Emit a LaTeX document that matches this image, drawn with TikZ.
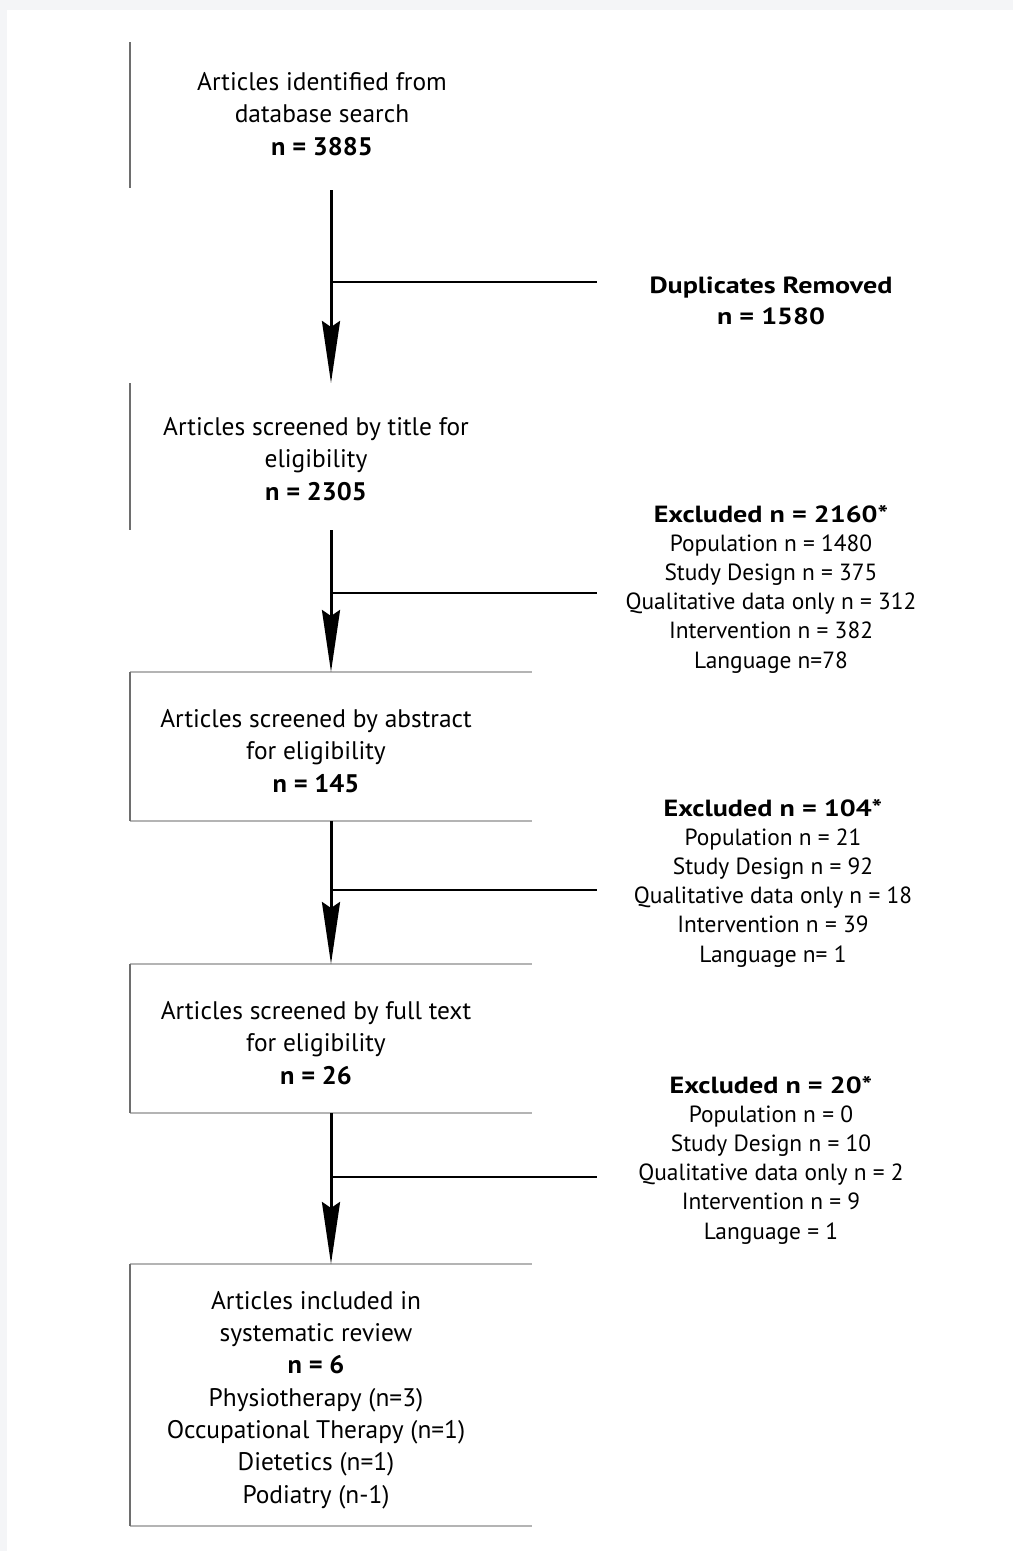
\documentclass[tikz,border=0pt]{standalone}
\usepackage{fontspec}
\setmainfont{PT Sans}
\usetikzlibrary{arrows.meta}
\definecolor{pagegray}{HTML}{F4F5F7}
\definecolor{edgedark}{HTML}{6E6E6E}
\definecolor{edgelight}{HTML}{B4B4B4}
\newcommand\wb[2]{{\bfseries\addfontfeatures{FakeStretch=#1}#2}}
\tikzset{
  boxshape/.style={draw=none, minimum width=402pt, inner sep=0pt, outer sep=0pt},
  leftedge/.style={draw=edgedark, line width=1.4pt},
  hedge/.style={draw=edgelight, line width=1.4pt},
  flow/.style={line width=3pt, -{Stealth[length=62pt,width=18pt,inset=6pt]}},
  branch/.style={line width=2pt},
  boxtext/.style={align=center, inner sep=0pt, font=\fontsize{25.4}{32.3}\selectfont},
  sidetext/.style={align=center, inner sep=0pt, font=\fontsize{23.4}{29.2}\selectfont}
}
\begin{document}
\begin{tikzpicture}[x=1pt,y=-1pt]
\useasboundingbox (0,0) rectangle (1013,1551);
\fill[pagegray] (0,0) rectangle (1013,1551);
\fill[white] (7,10) rectangle (1013,1551);

% box frames (invisible nodes)
\node[boxshape, minimum height=146pt] (b1) at (331,115) {};
\node[boxshape, minimum height=147pt] (b2) at (331,456.5) {};
\node[boxshape, minimum height=149pt] (b3) at (331,746.5) {};
\node[boxshape, minimum height=149pt] (b4) at (331,1038.5) {};
\node[boxshape, minimum height=262pt] (b5) at (331,1395) {};

\draw[leftedge] (b1.north west) -- (b1.south west);
\draw[leftedge] (b2.north west) -- (b2.south west);
\foreach \b in {b3,b4,b5}{
  \draw[hedge] (\b.north west) -- (\b.north east);
  \draw[hedge] (\b.south west) -- (\b.south east);
  \draw[leftedge] (\b.north west) -- (\b.south west);
}

% box texts
\node[boxtext] (t1) at (322,114) {Articles identified from\\database search\\\wb{1.04}{n = 3885}};
\node[boxtext] (t2) at (316,459) {Articles screened by title for\\eligibility\\\wb{1.04}{n = 2305}};
\node[boxtext] (t3) at (316,751) {Articles screened by abstract\\for eligibility\\\wb{1.04}{n = 145}};
\node[boxtext] (t4) at (316,1043) {Articles screened by full text\\for eligibility\\\wb{1.04}{n = 26}};
\node[boxtext] (t5) at (316,1400) {Articles included in\\systematic review\\\wb{1.04}{n = 6}\\Physiotherapy (n=3)\\Occupational Therapy (n=1)\\Dietetics (n=1)\\Podiatry (n-1)};

% side texts
\node[sidetext, font=\fontsize{23.4}{31}\selectfont] (s1) at (771,301) {\wb{1.2}{Duplicates Removed}\\\wb{1.2}{n = 1580}};
\node[sidetext] (s2) at (771,589) {\wb{1.2}{Excluded n = 2160*}\\Population n = 1480\\Study Design n = 375\\Qualitative data only n = 312\\Intervention n = 382\\Language n=78};
\node[sidetext] (s3) at (773,883) {\wb{1.2}{Excluded n = 104*}\\Population n = 21\\Study Design n = 92\\Qualitative data only n = 18\\Intervention n = 39\\Language n= 1};
\node[sidetext] (s4) at (771,1160) {\wb{1.2}{Excluded n = 20*}\\Population n = 0\\Study Design n = 10\\Qualitative data only n = 2\\Intervention n = 9\\Language = 1};

% flow arrows
\draw[flow] ([yshift=-2pt]b1.south) -- (b2.north);
\draw[flow] (b2.south) -- (b3.north);
\draw[flow] (b3.south) -- (b4.north);
\draw[flow] (b4.south) -- (b5.north);

% branches
\coordinate (j1) at (331,282);  \coordinate (e1) at (597,282);
\coordinate (j2) at (331,593);  \coordinate (e2) at (597,593);
\coordinate (j3) at (331,890);  \coordinate (e3) at (597,890);
\coordinate (j4) at (331,1177); \coordinate (e4) at (597,1177);
\draw[branch] (j1) -- (e1);
\draw[branch] (j2) -- (e2);
\draw[branch] (j3) -- (e3);
\draw[branch] (j4) -- (e4);
\end{tikzpicture}
\end{document}
